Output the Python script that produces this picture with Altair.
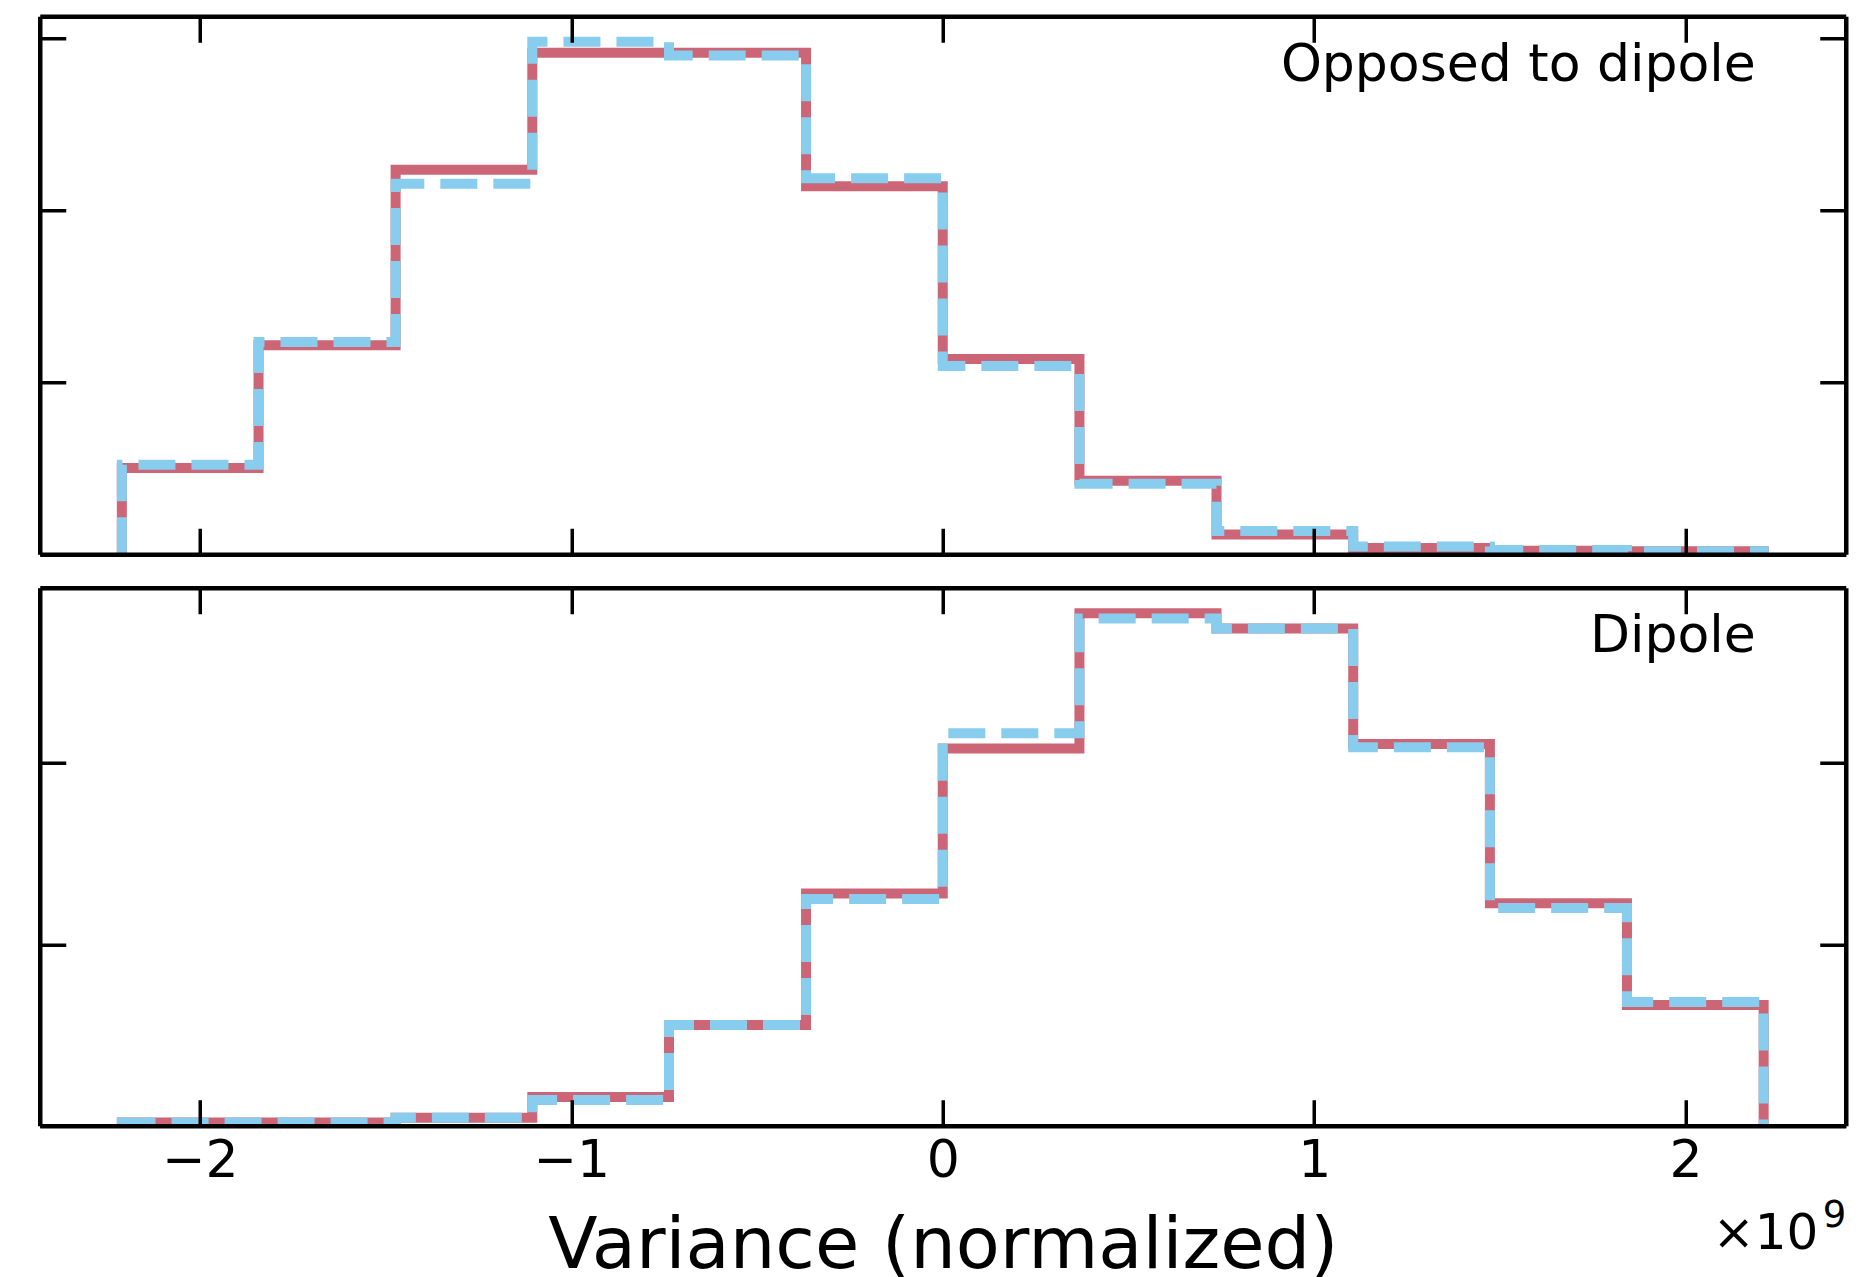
import altair as alt
import pandas as pd

# ---------------- data ----------------
bin_edges = [-2.21, -1.842, -1.473, -1.105, -0.737, -0.368, 0.0,
             0.368, 0.737, 1.105, 1.473, 1.842, 2.21]

top_red = [0.502, 1.215, 2.236, 2.916, 2.916, 2.14, 1.135, 0.427, 0.115, 0.036, 0.02, 0.017]
top_blue = [0.52, 1.235, 2.155, 2.98, 2.90, 2.187, 1.095, 0.41, 0.135, 0.045, 0.024, 0.017]
bot_red = [0.018, 0.018, 0.044, 0.158, 0.556, 1.28, 2.08, 2.825, 2.742, 2.105, 1.226, 0.666]
bot_blue = [0.018, 0.018, 0.044, 0.142, 0.556, 1.25, 2.164, 2.796, 2.742, 2.086, 1.20, 0.682]

x_ticks = [-2, -1, 0, 1, 2]
top_y_ticks = [0, 1, 2, 3]
bot_y_ticks = [0, 1, 2]
top_y_max = 3.129
bot_y_max = 2.966
x_domain = [-2.431, 2.431]
panel_labels = ["Opposed to dipole", "Dipole"]
x_title = "Variance (normalized)"
offset_base = "\u00d710"
offset_exp = "9"

RED = "#CC6677"
BLUE = "#88CCEE"
FONT = "DejaVu Sans"
W, H = 1806, 538
TICK = 26
LW = 10


def step_frame(values):
    xs = [bin_edges[0]] + bin_edges[:-1] + [bin_edges[-1], bin_edges[-1]]
    ys = [0.0] + list(values) + [values[-1], 0.0]
    return pd.DataFrame({"x": xs, "y": ys, "i": list(range(len(xs)))})


def dom_axis(orient, values, labels=False, title=None, **kw):
    args = dict(orient=orient, values=values, ticks=False, tickSize=0,
                labels=labels, domain=True, domainColor="black", domainWidth=4.5,
                grid=False, zindex=2)
    if labels:
        args.update(labelFontSize=52, labelFont=FONT, labelColor="black",
                    labelPadding=10, labelBaseline="top")
    if title is not None:
        args.update(title=title, titleFontSize=72, titleFont=FONT,
                    titleFontWeight="normal", titleColor="black",
                    titleX=W / 2, titleY=141.5, titleAlign="center",
                    titleBaseline="alphabetic")
    else:
        args.update(title=None)
    args.update(kw)
    return alt.Axis(**args)


def tick_axis(orient, values):
    return alt.Axis(orient=orient, values=values, offset=-TICK, ticks=True,
                    tickSize=TICK, tickWidth=3.5, tickColor="black",
                    labels=False, domain=False, grid=False, title=None,
                    zindex=2)


def panel(red_vals, blue_vals, y_max, y_ticks, label, bottom):
    xs = alt.Scale(domain=x_domain, nice=False, zero=False)
    ys = alt.Scale(domain=[0, y_max], nice=False, zero=False)
    red_df = step_frame(red_vals)
    blue_df = step_frame(blue_vals)

    def line(df, color, xaxis, yaxis, dash=None, opacity=1.0):
        kw = dict(interpolate="step-after", color=color, strokeWidth=LW,
                  clip=True, strokeJoin="miter", strokeCap="butt",
                  opacity=opacity)
        if dash:
            kw["strokeDash"] = dash
        return alt.Chart(df).mark_line(**kw).encode(
            x=alt.X("x:Q", scale=xs, axis=xaxis),
            y=alt.Y("y:Q", scale=ys, axis=yaxis),
            order=alt.Order("i:Q"),
        )

    red = line(red_df, RED,
               dom_axis("bottom", x_ticks, labels=bottom,
                        title=x_title if bottom else None),
               dom_axis("left", y_ticks))
    blue = line(blue_df, BLUE,
                dom_axis("top", x_ticks), dom_axis("right", y_ticks),
                dash=[37, 16])
    ticks_a = line(red_df, RED, tick_axis("bottom", x_ticks),
                   tick_axis("left", y_ticks), opacity=0)
    ticks_b = line(red_df, RED, tick_axis("top", x_ticks),
                   tick_axis("right", y_ticks), opacity=0)

    txt = alt.Chart(pd.DataFrame({"label": [label]})).mark_text(
        align="right", baseline="alphabetic", fontSize=52, font=FONT,
        color="black").encode(x=alt.value(1716), y=alt.value(64.5),
                              text="label:N")
    layers = [red, blue, ticks_a, ticks_b, txt]
    if bottom:
        off1 = alt.Chart(pd.DataFrame({"t": [offset_base]})).mark_text(
            align="left", baseline="alphabetic", fontSize=50, font=FONT,
            color="black").encode(x=alt.value(1673), y=alt.value(661),
                                  text="t:N")
        off2 = alt.Chart(pd.DataFrame({"t": [offset_exp]})).mark_text(
            align="left", baseline="alphabetic", fontSize=37, font=FONT,
            color="black").encode(x=alt.value(1783), y=alt.value(639),
                                  text="t:N")
        layers += [off1, off2]
    return alt.layer(*layers).resolve_axis(
        x="independent", y="independent").properties(width=W, height=H)


top = panel(top_red, top_blue, top_y_max, top_y_ticks, panel_labels[0], False)
bot = panel(bot_red, bot_blue, bot_y_max, bot_y_ticks, panel_labels[1], True)

chart = alt.vconcat(top, bot, spacing=27.5).properties(
    padding={"left": 36.75, "top": 13.25, "right": 10, "bottom": 10},
    background="white",
).configure_view(stroke="black", strokeWidth=4.5).configure(font=FONT)

chart.save("out.html", embed_options={"renderer": "svg", "actions": False})
